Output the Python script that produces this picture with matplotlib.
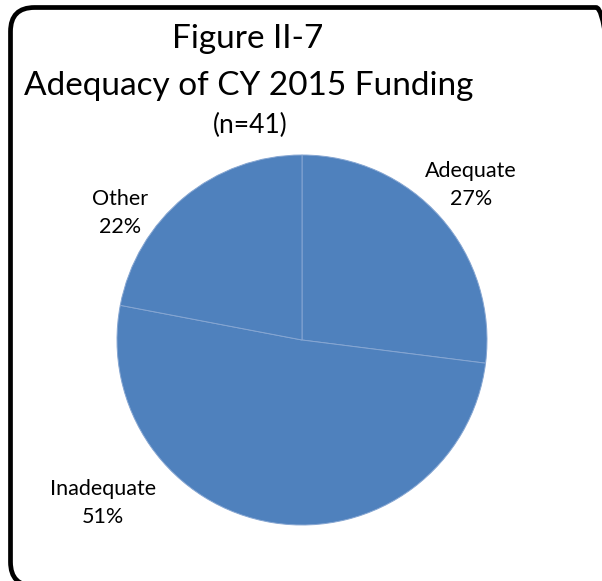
import matplotlib
matplotlib.use("Agg")
import matplotlib.pyplot as plt
from matplotlib.patches import FancyBboxPatch

# Survey responses on CY 2015 funding (percent of respondents, n=41)
categories = ["Adequate", "Inadequate", "Other"]
shares = [27, 51, 22]
title_lines = ["Figure II-7", "Adequacy of CY 2015 Funding"]
subtitle = "(n=41)"

W, H = 602, 581
FONT = "Lato"
BLUE = "#4F81BD"

fig = plt.figure(figsize=(W / 100, H / 100), dpi=100)
fig.patch.set_facecolor("white")


def fx(px):
    return px / W


def fy(py):
    return 1 - py / H


# rounded outer frame, laid out in inches so the corners stay circular
left, top, right, bottom = 10.5, 7.5, 620, 586
frame = FancyBboxPatch((left / 100, (H - bottom) / 100),
                       (right - left) / 100, (bottom - top) / 100,
                       boxstyle="round,pad=0,rounding_size=0.24",
                       transform=fig.dpi_scale_trans, facecolor="none",
                       edgecolor="black", linewidth=3.4, zorder=5)
fig.patches.append(frame)

# pie axes: centre (302, 340), radius 185 px
cx, cy, r = 302, 340, 185
ax = fig.add_axes([fx(cx - r), fy(cy + r), 2 * r / W, 2 * r / H])
ax.pie(shares, startangle=90, counterclock=False, radius=1.0,
       colors=[BLUE] * len(shares),
       wedgeprops=dict(edgecolor="#86A6D2", linewidth=0.7))
ax.set_xlim(-1, 1)
ax.set_ylim(-1, 1)
ax.set_aspect("equal")
ax.axis("off")

# titles
fig.text(fx(248), fy(48), title_lines[0], ha="center", va="baseline",
         fontsize=24, family=FONT)
fig.text(fx(249), fy(95), title_lines[1], ha="center", va="baseline",
         fontsize=24, family=FONT)
fig.text(fx(250), fy(133), subtitle, ha="center", va="baseline",
         fontsize=19, family=FONT)

# slice labels (name + percentage)
label_pos = {"Adequate": (471, 177), "Other": (120, 205), "Inadequate": (103, 495)}
for name, val in zip(categories, shares):
    x, y = label_pos[name]
    fig.text(fx(x), fy(y), name, ha="center", va="baseline", fontsize=15.5, family=FONT)
    fig.text(fx(x), fy(y + 28), f"{val}%", ha="center", va="baseline", fontsize=15.5, family=FONT)

fig.savefig("out.png", dpi=100, facecolor="white")
